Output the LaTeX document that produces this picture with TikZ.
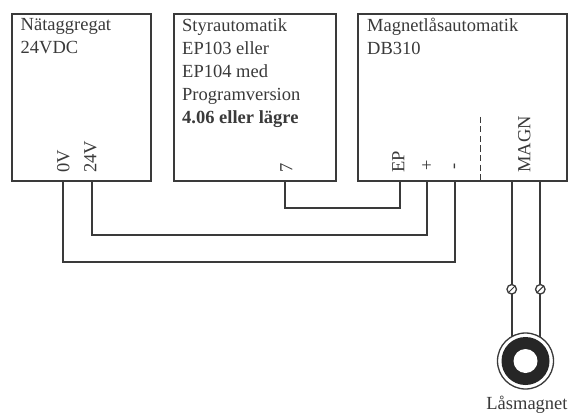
\documentclass[tikz,border=0pt]{standalone}
\usepackage{fontspec}
\setmainfont{Liberation Serif}
\definecolor{ink}{HTML}{3A3A3A}
\definecolor{txt}{HTML}{3A3A3A}
\tikzset{
  x=1pt,y=-1pt,
  unit/.style={draw=ink,line width=1.8pt,fill=white,anchor=north west,inner sep=0pt,minimum height=167.5pt},
  wire/.style={draw=ink,line width=2pt,line join=miter},
  lbl/.style={inner sep=0pt,text=txt,font=\fontsize{18.5}{23}\selectfont,anchor=north west,align=left},
  vert/.style={inner sep=0pt,text=txt,font=\fontsize{18.5}{20}\selectfont,rotate=90,anchor=mid west},
  screw/.style={circle,draw=ink,line width=1.3pt,fill=white,minimum size=9.5pt,inner sep=0pt},
}
\begin{document}
\begin{tikzpicture}
\useasboundingbox (0,0) rectangle (569,414);
\node[unit,minimum width=139pt] (psu) at (11,12.8) {};
\node[unit,minimum width=162pt] (ctl) at (173,12.8) {};
\node[unit,minimum width=208.5pt] (mag) at (357.4,12.8) {};
\node[lbl] (t1) at (20.5,18) {Nätaggregat\\24VDC};
\node[lbl] (t2) at (182,18) {Styrautomatik\\EP103 eller\\EP104 med\\Programversion\\\textbf{4.06 eller lägre}};
\node[lbl] (t3) at (367,18) {Magnetlåsautomatik\\DB310};
\node[vert] (l0v) at (67,173) {0V};
\node[vert] (l24v) at (94,173) {24V};
\node[vert] (l7) at (290,173) {7};
\node[vert] (lep) at (402,173) {EP};
\node[inner sep=0pt,text=txt,font=\fontsize{18.5}{20}\selectfont] (lp) at (426.7,166) {+};
\node[vert] (lm) at (456.5,170) {-};
\node[vert] (lmagn) at (528,173) {MAGN};
\coordinate (w0a) at (62.7,180.3);
\coordinate (w0b) at (455,180.3);
\coordinate (w24a) at (91.7,180.3);
\coordinate (w24b) at (427.3,180.3);
\coordinate (w7a) at (285,180.3);
\coordinate (w7b) at (400,180.3);
\draw[wire] (w0a) -- (62.7,261.7) -- (455,261.7) -- (w0b);
\draw[wire] (w24a) -- (91.7,235) -- (427.3,235) -- (w24b);
\draw[wire] (w7a) -- (285,207.5) -- (400,207.5) -- (w7b);
\draw[draw=ink,line width=1pt,dash pattern=on 6pt off 3.5pt] (480.3,117) -- (480.3,180.3);
\draw[wire] (511.7,180.3) -- (511.7,338);
\draw[wire] (540.3,180.3) -- (540.3,338);
\node[screw] (s1) at (511.7,289.3) {};
\node[screw] (s2) at (540.3,289.3) {};
\draw[ink,line width=1pt] (508.3,292.7) -- (515.1,285.9);
\draw[ink,line width=1pt] (536.9,292.7) -- (543.7,285.9);
\node[circle,draw=ink,line width=1.3pt,fill=white,minimum size=56pt,inner sep=0pt] (outer) at (525.5,361) {};
\node[circle,fill=black!85,minimum size=48pt,inner sep=0pt] (ring) at (525.5,361) {};
\node[circle,fill=white,minimum size=24pt,inner sep=0pt] (hole) at (525.5,361) {};
\node[inner sep=0pt,text=txt,font=\fontsize{18.5}{20}\selectfont] (t4) at (527,405) {Låsmagnet};
\end{tikzpicture}
\end{document}
